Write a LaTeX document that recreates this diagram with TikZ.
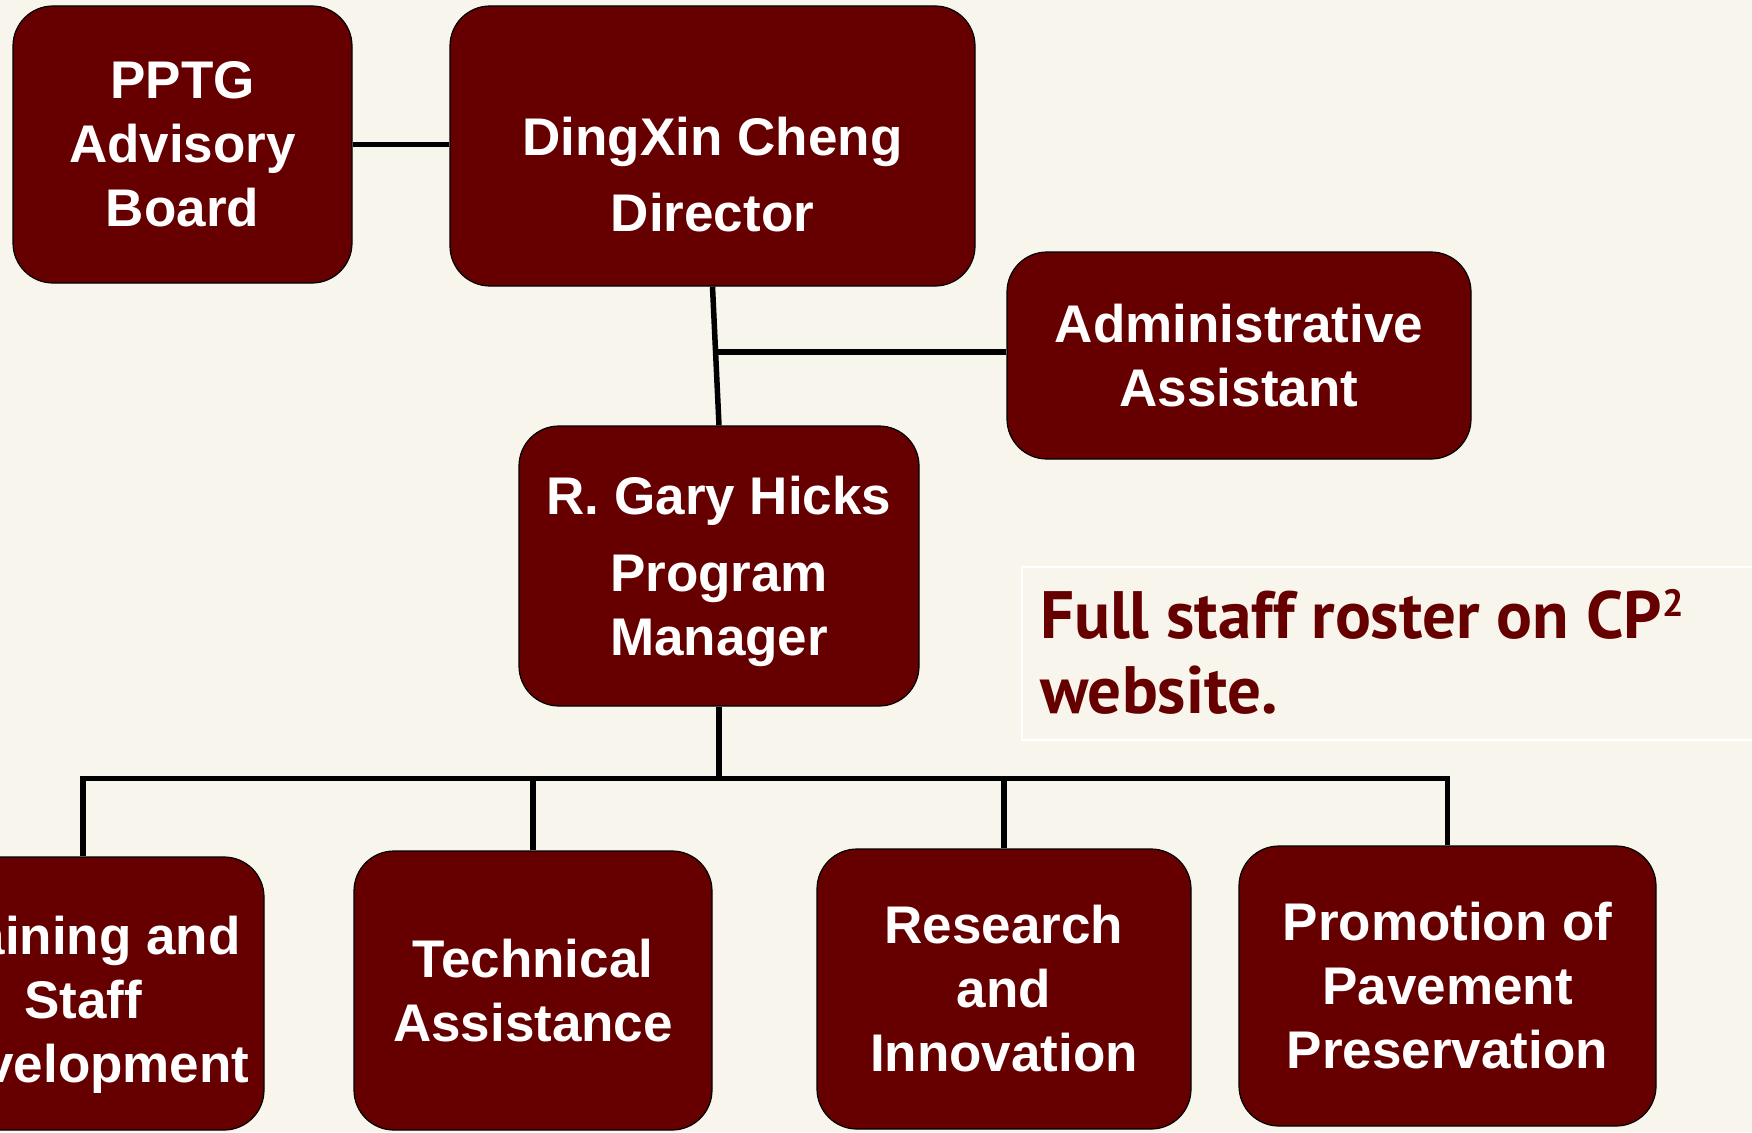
\documentclass[tikz,border=0pt]{standalone}
\usepackage{fontspec}
\setmainfont{Liberation Sans}
\newfontfamily\rosterfont{PT Sans}
\definecolor{maroon}{RGB}{102,0,0}
\definecolor{paper}{RGB}{248,246,236}
\begin{document}
\begin{tikzpicture}[x=1pt,y=-1pt]
%styles
\tikzstyle{unit}=[rectangle, rounded corners=40pt, draw=black, line width=1.2pt, fill=maroon, text=white, font=\bfseries\fontsize{53}{64}\selectfont, align=center, inner sep=0pt]
\tikzstyle{link}=[line width=5.5pt, black]
\tikzstyle{note}=[draw=white, line width=1.5pt]
%background
\fill[paper] (0,0) rectangle (1752,1132);
\useasboundingbox (0,0) rectangle (1752,1132);
%nodes
\node[unit, minimum width=339pt, minimum height=277pt] (pptg) at (182.5,144.5) {PPTG\\Advisory\\Board};
\node[unit, minimum width=525pt, minimum height=280pt] (director) at (712.5,146) {\rule{0pt}{96pt}DingXin Cheng\\[12pt]Director};
\node[unit, minimum width=464pt, minimum height=207pt] (admin) at (1239,355.5) {Administrative\\Assistant};
\node[unit, minimum width=400pt, minimum height=280pt] (hicks) at (719,566) {\rule{0pt}{50pt}R. Gary Hicks\\[13pt]Program\\Manager};

\node[unit, minimum width=362pt, minimum height=273pt] (training) at (83,993.5) {\rule{0pt}{61pt}Training and\\Staff\\Development};
\node[unit, minimum width=358pt, minimum height=279pt] (technical) at (533,990.5) {Technical\\Assistance};
\node[unit, minimum width=374pt, minimum height=280pt] (research) at (1004,989) {Research\\and\\Innovation};
\node[unit, minimum width=417pt, minimum height=280pt] (promotion) at (1447.5,986) {Promotion of\\Pavement\\Preservation};

%text
\draw[note] (1022,567) rectangle (1770,740);
\node[anchor=north west, inner sep=0pt, align=left, text=maroon, font=\rosterfont\bfseries\fontsize{67}{75}\selectfont] (roster) at (1040,589) {Full staff roster on CP\raisebox{22pt}{\fontsize{38}{38}\selectfont 2}\\website.};

%connectors
\draw[link] (pptg.east) -- (pptg.east -| director.west);
\draw[link] (director.south) -- (hicks.north) coordinate[pos=0.47] (split);
\draw[link] (split) -- (split -| admin.west);
\draw[link] (hicks.south) -- ++(0,72) coordinate (bus);
\draw[link] (training.north) |- (bus) -| (promotion.north);
\draw[link] (technical.north) -- (technical.north |- bus);
\draw[link] (research.north) -- (research.north |- bus);
\end{tikzpicture}
\end{document}
